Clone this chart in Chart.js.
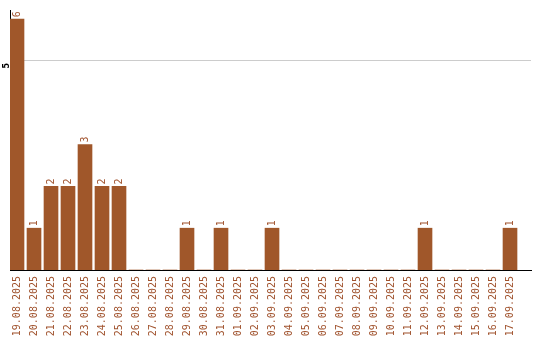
<!DOCTYPE html>
<html>
<head>
<meta charset="utf-8">
<script src="https://cdn.jsdelivr.net/npm/chart.js@4"></script>
<style>
  html, body { margin: 0; padding: 0; background: #fff; }
  #wrap { width: 540px; height: 340px; }
</style>
</head>
<body>
<div id="wrap"><canvas id="c" width="540" height="340"></canvas></div>
<script>
// Daily counts, 19.08.2025 - 17.09.2025
const days = [
  '19.08.2025', '20.08.2025', '21.08.2025', '22.08.2025', '23.08.2025',
  '24.08.2025', '25.08.2025', '26.08.2025', '27.08.2025', '28.08.2025',
  '29.08.2025', '30.08.2025', '31.08.2025', '01.09.2025', '02.09.2025',
  '03.09.2025', '04.09.2025', '05.09.2025', '06.09.2025', '07.09.2025',
  '08.09.2025', '09.09.2025', '10.09.2025', '11.09.2025', '12.09.2025',
  '13.09.2025', '14.09.2025', '15.09.2025', '16.09.2025', '17.09.2025'
];
const counts = [6, 1, 2, 2, 3, 2, 2, 0, 0, 0, 1, 0, 1, 0, 0, 1, 0, 0, 0, 0, 0, 0, 0, 0, 1, 0, 0, 0, 0, 1];
const yTicks = [5];

const BROWN = '#a0572a';
const LABEL_BROWN = '#a0522d';

// Value written above each non-empty bar, rotated like the day labels
const valueLabels = {
  id: 'valueLabels',
  afterDatasetsDraw(chart) {
    const ctx = chart.ctx;
    const meta = chart.getDatasetMeta(0);
    ctx.save();
    ctx.fillStyle = LABEL_BROWN;
    ctx.font = '10px "DejaVu Sans Mono"';
    ctx.textAlign = 'left';
    ctx.textBaseline = 'middle';
    meta.data.forEach((bar, i) => {
      const v = counts[i];
      if (!v) return;
      ctx.save();
      ctx.translate(bar.x, bar.y - 2);
      ctx.rotate(-Math.PI / 2);
      ctx.fillText(String(v), 0, 0);
      ctx.restore();
    });
    ctx.restore();
  }
};

new Chart(document.getElementById('c'), {
  type: 'bar',
  data: {
    datasets: [{
      data: counts.map((v, i) => ({ x: i, y: v })),
      backgroundColor: BROWN,
      borderWidth: 0,
      barThickness: 14
    }]
  },
  options: {
    responsive: false,
    animation: false,
    layout: { padding: { top: 10, right: 9, left: 0, bottom: 0 } },
    plugins: { legend: { display: false }, tooltip: { enabled: false } },
    scales: {
      x: {
        type: 'linear',
        offset: false,
        min: -0.412,
        max: 30.235,
        afterBuildTicks: s => { s.ticks = days.map((_, i) => ({ value: i })); },
        afterFit: s => { s.height = 70; s.paddingLeft = 0; s.paddingRight = 0; },
        grid: { display: false, drawTicks: false, offset: false },
        border: { display: true, color: '#000', width: 1 },
        ticks: {
          autoSkip: false,
          minRotation: 90,
          maxRotation: 90,
          padding: 6,
          color: LABEL_BROWN,
          font: { family: 'DejaVu Sans Mono', size: 10 },
          callback: v => days[v]
        }
      },
      y: {
        min: 0,
        max: 6.22,
        afterBuildTicks: s => { s.ticks = yTicks.map(v => ({ value: v })); },
        afterFit: s => { s.width = 10; s.paddingTop = 0; s.paddingBottom = 0; },
        grid: { color: '#cccccc', drawTicks: false },
        border: { display: true, color: '#000', width: 1 },
        ticks: {
          minRotation: 90,
          maxRotation: 90,
          padding: 3,
          labelOffset: 2,
          color: '#000',
          font: { family: 'DejaVu Sans', size: 8, weight: 'bold' }
        }
      }
    }
  },
  plugins: [valueLabels]
});
</script>
</body>
</html>
